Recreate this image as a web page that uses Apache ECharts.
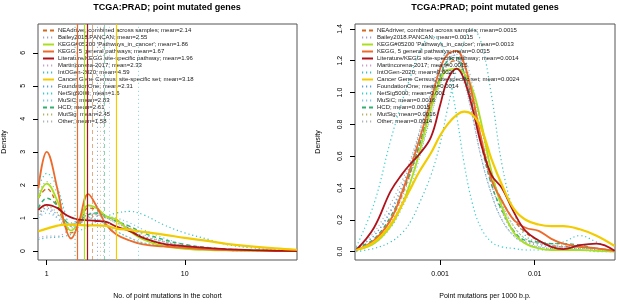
<!DOCTYPE html>
<html>
<head>
<meta charset="utf-8">
<script src="https://cdn.jsdelivr.net/npm/echarts@6/dist/echarts.min.js"></script>
<style>
  html, body { margin: 0; padding: 0; background: #fff; }
  #chart { width: 617px; height: 305px; }
</style>
</head>
<body>
<div id="chart"></div>
<script>
// gene sets (same order in both panels)
const setNames = [
    "NEAdriver, combined across samples",
    "Bailey2018.PANCAN",
    "KEGG#05200 'Pathways_in_cancer'",
    "KEGG, 5 general pathways",
    "Literature/KEGG site-specific pathway",
    "Martincorena-2017",
    "IntOGen-2020",
    "Cancer Gene Census, site-specific set",
    "FoundationOne",
    "NetSig5000",
    "MuSiC",
    "HCD",
    "MutSig",
    "Other"
];
const meansL = [2.14, 2.55, 1.86, 1.67, 1.96, 2.33, 4.59, 3.18, 2.31, 1.6, 2.83, 2.61, 2.45, 1.58];
const meansR = [0.0015, 0.0015, 0.0013, 0.0015, 0.0014, 0.0015, 0.0021, 0.0024, 0.0014, 0.001, 0.0016, 0.0015, 0.0016, 0.0014];

// left panel: No. of point mutations in the cohort
const xGridL = [0.87, 1, 1.2, 1.35, 1.5, 1.7, 2, 2.3, 2.7, 3.2, 4, 5, 7, 10, 15, 20, 30, 45, 65];
const densL_NEAdriver = [1.6, 1.88, 1.35, 0.8, 0.55, 0.75, 1.3, 1.25, 1.05, 0.95, 0.65, 0.4, 0.2, 0.1, 0.05, 0.03, 0.02, 0.01, 0];
const densL_Bailey = [1.0, 1.25, 1.0, 0.75, 0.7, 0.8, 1.0, 1.05, 1.0, 0.9, 0.7, 0.5, 0.3, 0.15, 0.08, 0.05, 0.03, 0.01, 0];
const densL_KEGG05200 = [1.6, 2.04, 1.5, 0.85, 0.62, 0.85, 1.38, 1.3, 1.05, 0.95, 0.6, 0.35, 0.15, 0.07, 0.03, 0.02, 0.01, 0, 0];
const densL_KEGG5 = [1.9, 3.0, 1.85, 0.8, 0.38, 0.85, 1.72, 1.35, 0.8, 0.5, 0.32, 0.2, 0.14, 0.1, 0.05, 0.03, 0.02, 0.01, 0];
const densL_Literature = [1.25, 1.4, 1.3, 1.12, 1.02, 0.95, 0.93, 0.91, 0.88, 0.74, 0.6, 0.4, 0.22, 0.15, 0.09, 0.06, 0.03, 0.01, 0];
const densL_Martincorena = [0.4, 0.45, 0.45, 0.55, 0.75, 0.95, 1.15, 1.1, 1.0, 0.85, 0.6, 0.4, 0.25, 0.12, 0.06, 0.04, 0.02, 0.01, 0];
const densL_IntOGen = [0.35, 0.4, 0.42, 0.45, 0.5, 0.6, 0.75, 0.9, 1.05, 1.15, 1.2, 1.1, 0.8, 0.55, 0.35, 0.2, 0.1, 0.05, 0.02];
const densL_CGC = [0.6, 0.68, 0.77, 0.8, 0.8, 0.79, 0.78, 0.78, 0.76, 0.68, 0.64, 0.58, 0.5, 0.4, 0.3, 0.22, 0.14, 0.08, 0.04];
const densL_FoundationOne = [1.1, 1.3, 1.1, 0.9, 0.85, 0.95, 1.1, 1.15, 1.05, 0.9, 0.65, 0.45, 0.28, 0.15, 0.07, 0.04, 0.02, 0.01, 0];
const densL_NetSig = [1.9, 2.35, 1.9, 1.2, 0.75, 0.8, 1.0, 0.95, 0.8, 0.6, 0.4, 0.25, 0.15, 0.08, 0.04, 0.02, 0.01, 0, 0];
const densL_MuSiC = [1.0, 1.15, 1.0, 0.85, 0.8, 0.9, 1.05, 1.1, 1.05, 1.0, 0.85, 0.65, 0.4, 0.2, 0.1, 0.06, 0.03, 0.01, 0];
const densL_HCD = [1.3, 1.6, 1.35, 0.95, 0.8, 0.9, 1.1, 1.15, 1.05, 0.9, 0.75, 0.55, 0.35, 0.2, 0.1, 0.06, 0.03, 0.01, 0];
const densL_MutSig = [1.1, 1.35, 1.15, 0.85, 0.75, 0.85, 1.05, 1.1, 1.0, 0.85, 0.65, 0.45, 0.3, 0.15, 0.08, 0.04, 0.02, 0.01, 0];
const densL_Other = [1.7, 2.1, 1.75, 1.15, 0.8, 0.85, 1.0, 0.95, 0.8, 0.6, 0.4, 0.25, 0.15, 0.08, 0.04, 0.02, 0.01, 0, 0];

// right panel: point mutations per 1000 b.p.
const xGridR = [0.00013, 0.0002, 0.0003, 0.0004, 0.0005, 0.0006, 0.0008, 0.001, 0.0012, 0.0015, 0.0018, 0.0022, 0.0027, 0.0035, 0.0045, 0.006, 0.008, 0.011, 0.015, 0.02, 0.03, 0.045, 0.07];
const densR_NEAdriver = [0.01, 0.07, 0.2, 0.36, 0.52, 0.66, 0.9, 1.08, 1.18, 1.2, 1.12, 0.95, 0.72, 0.47, 0.32, 0.2, 0.12, 0.07, 0.04, 0.03, 0.03, 0.02, 0.005];
const densR_Bailey = [0.02, 0.1, 0.25, 0.4, 0.55, 0.7, 0.95, 1.12, 1.2, 1.22, 1.12, 0.92, 0.68, 0.42, 0.25, 0.12, 0.06, 0.04, 0.03, 0.03, 0.03, 0.02, 0.005];
const densR_KEGG05200 = [0.01, 0.05, 0.16, 0.3, 0.46, 0.62, 0.9, 1.08, 1.14, 1.15, 1.12, 1.02, 0.82, 0.5, 0.28, 0.12, 0.05, 0.02, 0.01, 0.01, 0.01, 0.005, 0];
const densR_KEGG5 = [0.01, 0.07, 0.2, 0.38, 0.55, 0.7, 0.95, 1.15, 1.24, 1.26, 1.18, 0.98, 0.72, 0.45, 0.32, 0.2, 0.15, 0.13, 0.08, 0.05, 0.03, 0.02, 0.005];
const densR_Literature = [0.01, 0.15, 0.38, 0.49, 0.56, 0.61, 0.72, 0.92, 1.08, 1.15, 1.08, 0.9, 0.68, 0.48, 0.4, 0.25, 0.13, 0.07, 0.03, 0.015, 0.04, 0.05, 0.005];
const densR_Martincorena = [0.01, 0.06, 0.2, 0.35, 0.5, 0.65, 0.92, 1.1, 1.2, 1.24, 1.15, 0.95, 0.7, 0.42, 0.25, 0.13, 0.06, 0.05, 0.04, 0.03, 0.03, 0.02, 0.005];
const densR_IntOGen = [0.0, 0.02, 0.06, 0.12, 0.2, 0.3, 0.48, 0.68, 0.9, 1.15, 1.32, 1.4, 1.32, 0.98, 0.55, 0.25, 0.1, 0.06, 0.05, 0.06, 0.1, 0.06, 0.01];
const densR_CGC = [0.01, 0.06, 0.17, 0.3, 0.41, 0.5, 0.62, 0.73, 0.8, 0.86, 0.88, 0.86, 0.78, 0.58, 0.42, 0.27, 0.2, 0.17, 0.16, 0.16, 0.14, 0.1, 0.035];
const densR_FoundationOne = [0.02, 0.1, 0.26, 0.42, 0.58, 0.74, 1.0, 1.18, 1.25, 1.22, 1.08, 0.85, 0.6, 0.36, 0.2, 0.1, 0.05, 0.03, 0.02, 0.02, 0.02, 0.01, 0];
const densR_NetSig = [0.03, 0.3, 0.7, 0.95, 1.12, 1.25, 1.35, 1.32, 1.15, 0.85, 0.55, 0.3, 0.15, 0.06, 0.03, 0.02, 0.01, 0.01, 0.01, 0.01, 0.01, 0, 0];
const densR_MuSiC = [0.01, 0.05, 0.15, 0.28, 0.42, 0.58, 0.85, 1.05, 1.18, 1.26, 1.22, 1.05, 0.8, 0.5, 0.3, 0.16, 0.08, 0.05, 0.04, 0.03, 0.03, 0.02, 0.005];
const densR_HCD = [0.02, 0.08, 0.22, 0.38, 0.52, 0.67, 0.92, 1.1, 1.2, 1.22, 1.12, 0.92, 0.68, 0.42, 0.26, 0.13, 0.07, 0.06, 0.05, 0.05, 0.04, 0.02, 0.005];
const densR_MutSig = [0.01, 0.06, 0.18, 0.32, 0.46, 0.6, 0.86, 1.05, 1.16, 1.22, 1.18, 1.02, 0.78, 0.5, 0.3, 0.16, 0.08, 0.05, 0.04, 0.04, 0.03, 0.02, 0.005];
const densR_Other = [0.02, 0.12, 0.3, 0.45, 0.6, 0.75, 0.98, 1.15, 1.22, 1.2, 1.06, 0.85, 0.6, 0.36, 0.2, 0.1, 0.05, 0.03, 0.02, 0.02, 0.02, 0.01, 0];

const densL = [densL_NEAdriver, densL_Bailey, densL_KEGG05200, densL_KEGG5, densL_Literature, densL_Martincorena, densL_IntOGen,
    densL_CGC, densL_FoundationOne, densL_NetSig, densL_MuSiC, densL_HCD, densL_MutSig, densL_Other];
const densR = [densR_NEAdriver, densR_Bailey, densR_KEGG05200, densR_KEGG5, densR_Literature, densR_Martincorena, densR_IntOGen,
    densR_CGC, densR_FoundationOne, densR_NetSig, densR_MuSiC, densR_HCD, densR_MutSig, densR_Other];

// axis ticks
const xTicksL = [1, 10];
const xTicksR = [0.001, 0.01];
const yTicksL = [0, 1, 2, 3, 4, 5, 6];
const yTicksR = [0, 0.2, 0.4, 0.6, 0.8, 1.0, 1.2, 1.4];

// line styles per set
const colors = ["#D2691E", "#A0A4CC", "#A8E020", "#EE6A2A", "#B0121B", "#C8A0C8", "#3CC0C0",
    "#F2CC00", "#5AA0E0", "#30D0D0", "#80C8E8", "#30B070", "#B8B060", "#A8B8B0"];
const kinds = ["dashed", "dotted", "solid", "solid", "solid", "dotted", "dotted",
    "solid", "dotted", "dotted", "dotted", "dashed", "dotted", "dotted"];

const font = "Liberation Sans";

function lineType(k) {
    if (k === "dashed") return [4, 3];
    if (k === "dotted") return [1.2, 2.8];
    return "solid";
}
function lineWidth(k, i) {
    if (k === "solid") return i === 7 ? 2.2 : 1.8;
    return k === "dashed" ? 1.4 : 1.2;
}

function buildSeries(xGrid, dens, means, panel) {
    return setNames.map((name, i) => ({
        name: name + "; mean=" + means[i],
        type: "line",
        xAxisIndex: panel,
        yAxisIndex: panel,
        data: xGrid.map((x, j) => [x, dens[i][j]]),
        smooth: 0.4,
        symbol: "none",
        z: kinds[i] === "solid" ? 3 : 2,
        lineStyle: { color: colors[i], width: lineWidth(kinds[i], i), type: lineType(kinds[i]) },
        itemStyle: { color: colors[i] },
        markLine: {
            silent: true,
            symbol: ["none", "none"],
            label: { show: false },
            lineStyle: {
                color: colors[i],
                width: kinds[i] === "solid" ? 1.2 : 0.8,
                opacity: kinds[i] === "solid" ? 1 : 0.7,
                type: kinds[i] === "solid" ? "solid" : lineType(kinds[i])
            },
            data: [{ xAxis: means[i] }]
        }
    }));
}

const fmtTick = (v) => String(Number(Number(v).toPrecision(3)));

function xAxisOpt(grid, min, max, ticks, name) {
    return {
        type: "log",
        gridIndex: grid,
        min: min,
        max: max,
        axisLine: { show: false, onZero: false },
        splitLine: { show: false },
        axisTick: { customValues: ticks, length: 5, lineStyle: { color: "#000" } },
        axisLabel: { customValues: ticks, formatter: fmtTick, fontSize: 7, margin: 11, color: "#000", fontFamily: font },
        name: name,
        nameLocation: "middle",
        nameGap: 33,
        nameTextStyle: { fontSize: 7, color: "#000", fontFamily: font }
    };
}
function yAxisOpt(grid, min, max, ticks, gap, fmt) {
    return {
        type: "value",
        gridIndex: grid,
        min: min,
        max: max,
        axisLine: { show: false, onZero: false },
        splitLine: { show: false },
        axisTick: { show: true, customValues: ticks, length: 5, lineStyle: { color: "#000" } },
        axisLabel: { customValues: ticks, formatter: fmt, rotate: 90, fontSize: 7, margin: 11, color: "#000", fontFamily: font },
        name: "Density",
        nameLocation: "middle",
        nameGap: gap,
        nameTextStyle: { fontSize: 7, color: "#000", fontFamily: font }
    };
}

function legendOpt(left, means) {
    return {
        orient: "vertical",
        left: left,
        top: 27,
        padding: 0,
        itemGap: 0,
        itemWidth: 11,
        itemHeight: 7,
        selectedMode: false,
        itemStyle: { opacity: 0 },
        data: setNames.map((n, i) => n + "; mean=" + means[i]),
        textStyle: { fontSize: 6, lineHeight: 7, color: "#222", fontFamily: font, padding: [0, 0, 0, -1] }
    };
}

const chart = echarts.init(document.getElementById("chart"), null, { renderer: "canvas" });
chart.setOption({
    animation: false,
    backgroundColor: "#fff",
    textStyle: { fontFamily: font },
    graphic: [
        { type: "text", x: 167, y: 8, style: { text: "TCGA:PRAD; point mutated genes", font: "bold 9px " + font, fill: "#000", textAlign: "center", textVerticalAlign: "middle" } },
        { type: "text", x: 485, y: 8, style: { text: "TCGA:PRAD; point mutated genes", font: "bold 9px " + font, fill: "#000", textAlign: "center", textVerticalAlign: "middle" } }
    ],
    grid: [
        { left: 37, top: 24, width: 260, height: 242, show: true, borderColor: "#555", borderWidth: 1, backgroundColor: "transparent" },
        { left: 355, top: 24, width: 260, height: 242, show: true, borderColor: "#555", borderWidth: 1, backgroundColor: "transparent" }
    ],
    legend: [legendOpt(42, meansL), legendOpt(361, meansR)],
    xAxis: [
        xAxisOpt(0, 0.865, 65, xTicksL, "No. of point mutations in the cohort"),
        xAxisOpt(1, 0.000126, 0.0706, xTicksR, "Point mutations per 1000 b.p.")
    ],
    yAxis: [
        yAxisOpt(0, -0.27, 6.87, yTicksL, 30, (v) => String(v)),
        yAxisOpt(1, -0.053, 1.431, yTicksR, 33, (v) => Number(v).toFixed(1))
    ],
    series: buildSeries(xGridL, densL, meansL, 0).concat(buildSeries(xGridR, densR, meansR, 1))
});
</script>
</body>
</html>
